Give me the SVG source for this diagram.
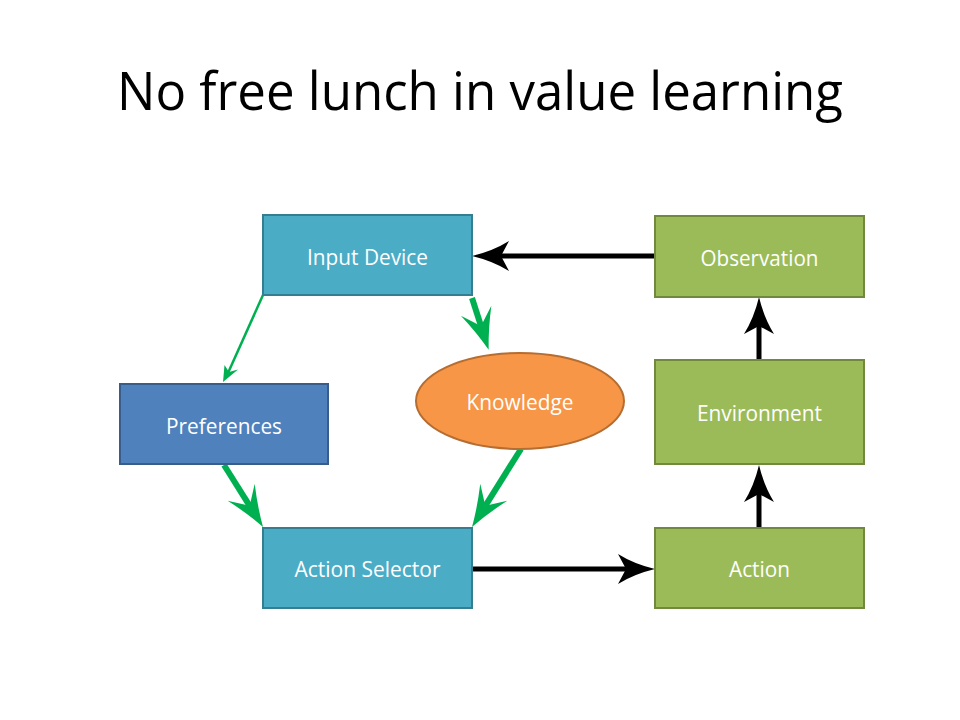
<svg xmlns="http://www.w3.org/2000/svg" width="960" height="720" viewBox="0 0 960 720">
<defs>
<style>
.lbl{font-family:"Open Sans","Noto Sans","Liberation Sans",sans-serif;font-size:21px;fill:#ffffff;text-anchor:middle}
.teal{fill:#4BACC6;stroke:#357D91;stroke-width:2}
.green{fill:#9BBB59;stroke:#71893F;stroke-width:2}
.blue{fill:#4F81BD;stroke:#385D8A;stroke-width:2}
.k{stroke:#000;stroke-width:5;fill:none}
.g{stroke:#00B050;stroke-width:6;fill:none}
</style>
<marker id="ab" markerUnits="userSpaceOnUse" viewBox="-15 -18 50 36" markerWidth="50" markerHeight="36" refX="0" refY="0" orient="auto">
<path d="M29,0 Q8,-5 -8,-15 L0,0 L-8,15 Q8,5 29,0 Z" fill="#000"/>
</marker>
<marker id="ag" markerUnits="userSpaceOnUse" viewBox="-20 -18 50 36" markerWidth="50" markerHeight="36" refX="0" refY="0" orient="auto">
<path d="M25,0 Q5,-6 -16,-16 L0,0 L-16,16 Q5,6 25,0 Z" fill="#00B050"/>
</marker>
</defs>
<rect width="960" height="720" fill="#fff"/>
<text x="480" y="110" font-family="'Open Sans','Noto Sans','Liberation Sans',sans-serif" font-size="53" fill="#000" text-anchor="middle" textLength="726" lengthAdjust="spacingAndGlyphs">No free lunch in value learning</text>

<g id="connectors">
<line class="k" x1="655" y1="256" x2="501" y2="256" marker-end="url(#ab)"/>
<line class="k" x1="759" y1="360" x2="759" y2="326" marker-end="url(#ab)"/>
<line class="k" x1="759" y1="528" x2="759" y2="494" marker-end="url(#ab)"/>
<line class="k" x1="472" y1="569" x2="626" y2="569" marker-end="url(#ab)"/>
<line x1="263" y1="295" x2="228" y2="373" stroke="#00B050" stroke-width="2.5"/>
<path d="M223,382 L224.5,365 L229,372 L238,369.5 Z" fill="#00B050"/>
<line class="g" x1="472" y1="298" x2="481" y2="326" marker-end="url(#ag)"/>
<line class="g" x1="224" y1="465" x2="249.7" y2="505.8" marker-end="url(#ag)"/>
<line class="g" x1="521" y1="449" x2="485.3" y2="505.8" marker-end="url(#ag)"/>
</g>

<g id="input-device"><rect class="teal" x="263" y="215" width="209" height="80"/><text class="lbl" x="367.5" y="265" textLength="121" lengthAdjust="spacingAndGlyphs">Input Device</text></g>
<g id="observation"><rect class="green" x="655" y="216" width="209" height="81"/><text class="lbl" x="759.5" y="266" textLength="118" lengthAdjust="spacingAndGlyphs">Observation</text></g>
<g id="preferences"><rect class="blue" x="120" y="384" width="208" height="80"/><text class="lbl" x="224" y="434" textLength="116" lengthAdjust="spacingAndGlyphs">Preferences</text></g>
<g id="knowledge"><ellipse cx="520" cy="401" rx="104" ry="48" fill="#F79646" stroke="#B66D31" stroke-width="2"/><text class="lbl" x="520" y="410" textLength="107" lengthAdjust="spacingAndGlyphs">Knowledge</text></g>
<g id="environment"><rect class="green" x="655" y="360" width="209" height="104"/><text class="lbl" x="759.5" y="421" textLength="125" lengthAdjust="spacingAndGlyphs">Environment</text></g>
<g id="action-selector"><rect class="teal" x="263" y="528" width="209" height="80"/><text class="lbl" x="367.5" y="577" textLength="146" lengthAdjust="spacingAndGlyphs">Action Selector</text></g>
<g id="action"><rect class="green" x="655" y="528" width="209" height="80"/><text class="lbl" x="759.5" y="577" textLength="61" lengthAdjust="spacingAndGlyphs">Action</text></g>
</svg>
